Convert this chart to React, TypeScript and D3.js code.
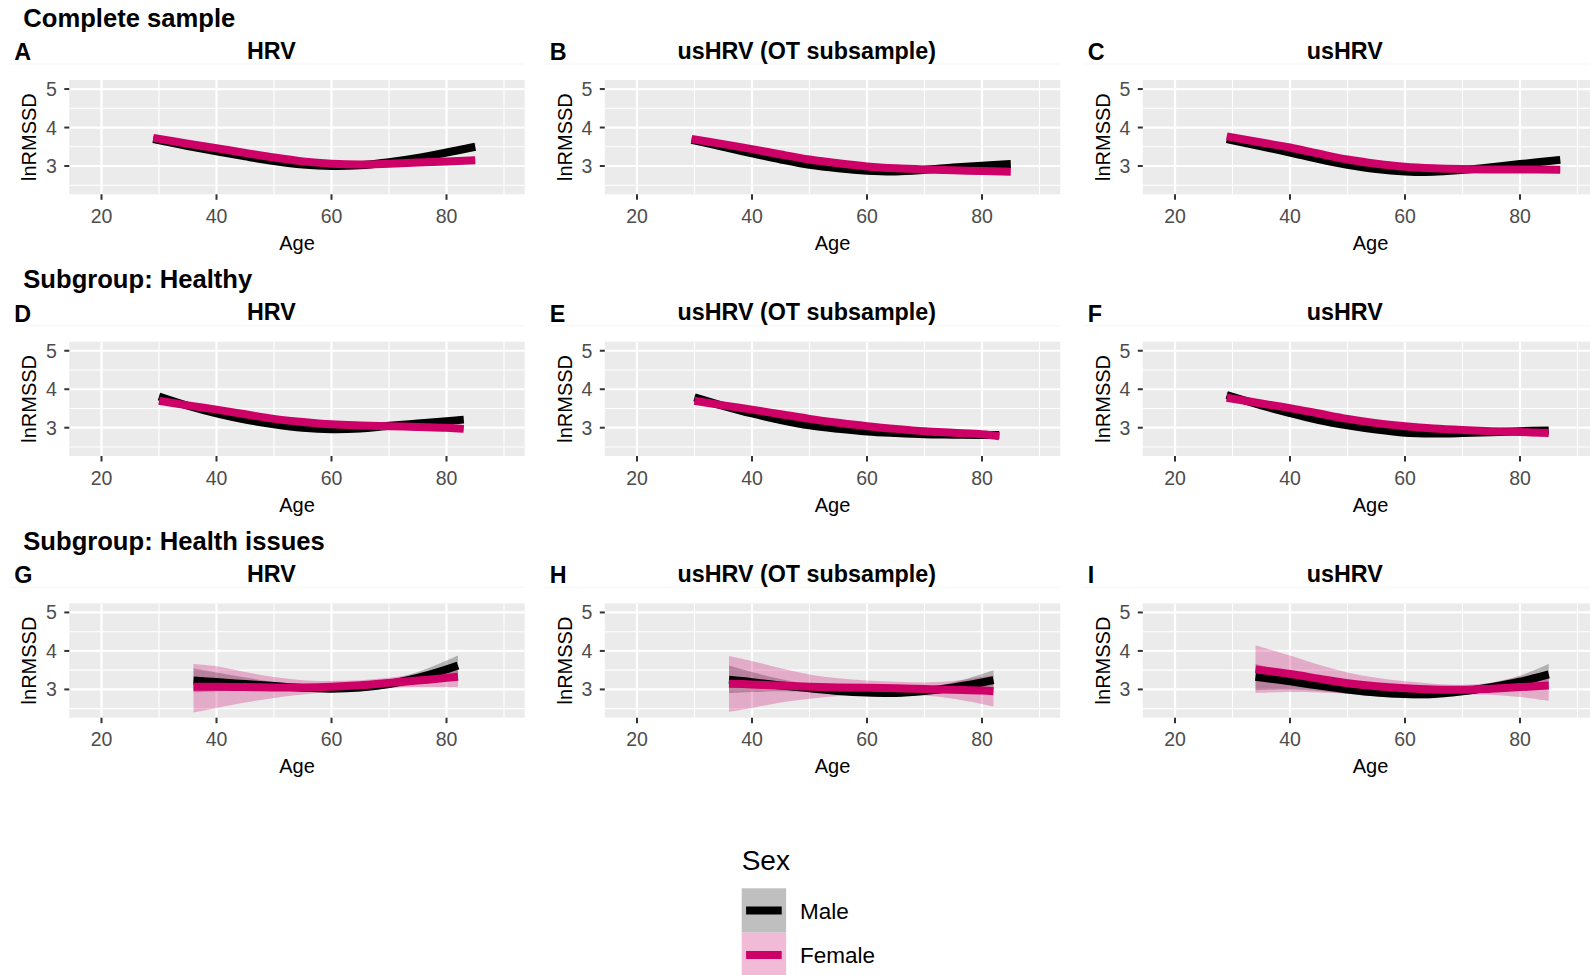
import React from "react";
import * as d3 from "d3";

// ---- data (lnRMSSD fitted by age, per sex) ----
const rowTitles = ["Complete sample", "Subgroup: Healthy", "Subgroup: Health issues"];
const colTitles = ["HRV", "usHRV (OT subsample)", "usHRV"];
const tags = ["A", "B", "C", "D", "E", "F", "G", "H", "I"];
const xTicks = [20, 40, 60, 80];
const xMinor = [30, 50, 70, 90];
const yTicks = [3, 4, 5];
const yMinor = [2.5, 3.5, 4.5];
const sexes = ["Male", "Female"];

// A: complete sample, HRV
const ageA = [29, 35, 40, 45, 50, 55, 60, 65, 70, 75, 80, 85];
const maleA = [3.7, 3.52, 3.38, 3.25, 3.13, 3.04, 3.0, 3.02, 3.1, 3.21, 3.35, 3.5];
const maleLoA = [3.63, 3.48, 3.35, 3.23, 3.11, 3.02, 2.98, 3.0, 3.07, 3.17, 3.29, 3.41];
const maleHiA = [3.77, 3.56, 3.41, 3.27, 3.15, 3.06, 3.02, 3.04, 3.13, 3.25, 3.41, 3.59];
const femaleA = [3.73, 3.58, 3.46, 3.34, 3.22, 3.12, 3.06, 3.04, 3.06, 3.09, 3.12, 3.15];
const femaleLoA = [3.67, 3.55, 3.44, 3.32, 3.2, 3.1, 3.04, 3.02, 3.04, 3.06, 3.07, 3.08];
const femaleHiA = [3.79, 3.61, 3.48, 3.36, 3.24, 3.14, 3.08, 3.06, 3.08, 3.12, 3.17, 3.22];

// B: complete sample, usHRV (OT subsample)
const ageB = [29.5, 35, 40, 45, 50, 55, 60, 65, 70, 75, 80, 85];
const maleB = [3.68, 3.5, 3.33, 3.17, 3.03, 2.94, 2.88, 2.86, 2.9, 2.96, 3.01, 3.05];
const maleLoB = [3.6, 3.46, 3.3, 3.15, 3.01, 2.92, 2.86, 2.84, 2.87, 2.91, 2.94, 2.95];
const maleHiB = [3.76, 3.54, 3.36, 3.19, 3.05, 2.96, 2.9, 2.88, 2.93, 3.01, 3.08, 3.15];
const femaleB = [3.7, 3.57, 3.44, 3.3, 3.17, 3.07, 2.99, 2.94, 2.91, 2.89, 2.87, 2.85];
const femaleLoB = [3.63, 3.53, 3.42, 3.28, 3.15, 3.05, 2.97, 2.92, 2.88, 2.85, 2.81, 2.77];
const femaleHiB = [3.77, 3.61, 3.46, 3.32, 3.19, 3.09, 3.01, 2.96, 2.94, 2.93, 2.93, 2.93];

// C: complete sample, usHRV
const ageC = [29, 35, 40, 45, 50, 55, 60, 65, 70, 75, 80, 87];
const maleC = [3.7, 3.51, 3.35, 3.18, 3.03, 2.92, 2.86, 2.85, 2.9, 2.97, 3.05, 3.16];
const maleLoC = [3.64, 3.47, 3.32, 3.16, 3.01, 2.9, 2.84, 2.83, 2.87, 2.93, 2.99, 3.06];
const maleHiC = [3.76, 3.55, 3.38, 3.2, 3.05, 2.94, 2.88, 2.87, 2.93, 3.01, 3.11, 3.26];
const femaleC = [3.77, 3.61, 3.48, 3.32, 3.17, 3.06, 2.98, 2.94, 2.92, 2.91, 2.91, 2.9];
const femaleLoC = [3.71, 3.57, 3.46, 3.3, 3.15, 3.04, 2.96, 2.92, 2.9, 2.88, 2.87, 2.84];
const femaleHiC = [3.83, 3.65, 3.5, 3.34, 3.19, 3.08, 3.0, 2.96, 2.94, 2.94, 2.95, 2.96];

// D: healthy, HRV
const ageD = [30, 35, 40, 45, 50, 55, 60, 65, 70, 75, 80, 83];
const maleD = [3.81, 3.57, 3.37, 3.21, 3.09, 3.0, 2.96, 2.98, 3.05, 3.11, 3.17, 3.21];
const maleLoD = [3.73, 3.53, 3.34, 3.19, 3.07, 2.98, 2.94, 2.96, 3.02, 3.06, 3.1, 3.12];
const maleHiD = [3.89, 3.61, 3.4, 3.23, 3.11, 3.02, 2.98, 3.0, 3.08, 3.16, 3.24, 3.3];
const femaleD = [3.7, 3.58, 3.47, 3.35, 3.23, 3.15, 3.09, 3.06, 3.04, 3.02, 3.0, 2.97];
const femaleLoD = [3.64, 3.55, 3.45, 3.33, 3.21, 3.13, 3.07, 3.04, 3.02, 2.99, 2.95, 2.91];
const femaleHiD = [3.76, 3.61, 3.49, 3.37, 3.25, 3.17, 3.11, 3.08, 3.06, 3.05, 3.05, 3.03];

// E: healthy, usHRV (OT subsample)
const ageE = [30, 35, 40, 45, 50, 55, 60, 65, 70, 75, 80, 83];
const maleE = [3.79, 3.57, 3.37, 3.2, 3.06, 2.97, 2.9, 2.86, 2.83, 2.82, 2.81, 2.81];
const maleLoE = [3.71, 3.53, 3.34, 3.18, 3.04, 2.95, 2.88, 2.84, 2.81, 2.79, 2.77, 2.75];
const maleHiE = [3.87, 3.61, 3.4, 3.22, 3.08, 2.99, 2.92, 2.88, 2.85, 2.85, 2.85, 2.87];
const femaleE = [3.7, 3.58, 3.47, 3.35, 3.23, 3.13, 3.04, 2.97, 2.91, 2.87, 2.83, 2.78];
const femaleLoE = [3.64, 3.55, 3.45, 3.33, 3.21, 3.11, 3.02, 2.95, 2.89, 2.84, 2.79, 2.72];
const femaleHiE = [3.76, 3.61, 3.49, 3.37, 3.25, 3.15, 3.06, 2.99, 2.93, 2.9, 2.87, 2.84];

// F: healthy, usHRV
const ageF = [29, 35, 40, 45, 50, 55, 60, 65, 70, 75, 80, 85];
const maleF = [3.85, 3.58, 3.38, 3.2, 3.06, 2.95, 2.87, 2.85, 2.86, 2.88, 2.91, 2.93];
const maleLoF = [3.77, 3.54, 3.35, 3.18, 3.04, 2.93, 2.85, 2.83, 2.84, 2.85, 2.87, 2.87];
const maleHiF = [3.93, 3.62, 3.41, 3.22, 3.08, 2.97, 2.89, 2.87, 2.88, 2.91, 2.95, 2.99];
const femaleF = [3.78, 3.63, 3.51, 3.37, 3.23, 3.12, 3.04, 2.98, 2.94, 2.91, 2.89, 2.86];
const femaleLoF = [3.72, 3.6, 3.49, 3.35, 3.21, 3.1, 3.02, 2.96, 2.92, 2.89, 2.86, 2.81];
const femaleHiF = [3.84, 3.66, 3.53, 3.39, 3.25, 3.14, 3.06, 3.0, 2.96, 2.93, 2.92, 2.91];

// G: health issues, HRV
const ageG = [36, 40, 45, 50, 55, 60, 65, 70, 75, 80, 82];
const maleG = [3.23, 3.19, 3.14, 3.09, 3.04, 3.02, 3.05, 3.14, 3.3, 3.52, 3.62];
const maleLoG = [2.92, 2.95, 2.98, 2.98, 2.95, 2.93, 2.95, 3.03, 3.15, 3.3, 3.36];
const maleHiG = [3.55, 3.44, 3.31, 3.2, 3.13, 3.11, 3.15, 3.25, 3.45, 3.75, 3.88];
const femaleG = [3.07, 3.07, 3.06, 3.05, 3.05, 3.07, 3.11, 3.17, 3.23, 3.3, 3.33];
const femaleLoG = [2.4, 2.52, 2.66, 2.78, 2.87, 2.93, 2.99, 3.04, 3.06, 3.06, 3.05];
const femaleHiG = [3.66, 3.6, 3.45, 3.32, 3.24, 3.22, 3.24, 3.3, 3.41, 3.55, 3.6];

// H: health issues, usHRV (OT subsample)
const ageH = [36, 40, 45, 50, 55, 60, 65, 70, 75, 80, 82];
const maleH = [3.25, 3.19, 3.1, 3.03, 2.96, 2.92, 2.91, 2.96, 3.05, 3.18, 3.24];
const maleLoH = [2.9, 2.93, 2.95, 2.93, 2.87, 2.82, 2.82, 2.87, 2.94, 3.0, 3.0];
const maleHiH = [3.62, 3.45, 3.27, 3.13, 3.05, 3.02, 3.01, 3.06, 3.18, 3.4, 3.5];
const femaleH = [3.15, 3.13, 3.1, 3.07, 3.05, 3.04, 3.03, 3.01, 2.99, 2.97, 2.95];
const femaleLoH = [2.42, 2.52, 2.66, 2.76, 2.83, 2.87, 2.87, 2.84, 2.76, 2.62, 2.55];
const femaleHiH = [3.87, 3.74, 3.55, 3.39, 3.29, 3.23, 3.2, 3.18, 3.22, 3.32, 3.36];

// I: health issues, usHRV
const ageI = [34, 40, 45, 50, 55, 60, 65, 70, 75, 80, 85];
const maleI = [3.33, 3.21, 3.1, 3.0, 2.92, 2.88, 2.88, 2.95, 3.06, 3.2, 3.39];
const maleLoI = [2.98, 3.0, 2.96, 2.89, 2.82, 2.77, 2.77, 2.85, 2.95, 3.05, 3.14];
const maleHiI = [3.66, 3.42, 3.24, 3.11, 3.02, 2.99, 2.99, 3.05, 3.17, 3.36, 3.66];
const femaleI = [3.52, 3.4, 3.28, 3.16, 3.08, 3.03, 3.0, 2.99, 3.02, 3.06, 3.1];
const femaleLoI = [2.91, 2.93, 2.92, 2.89, 2.86, 2.85, 2.86, 2.87, 2.86, 2.8, 2.7];
const femaleHiI = [4.15, 3.88, 3.64, 3.44, 3.3, 3.21, 3.15, 3.12, 3.17, 3.32, 3.48];

const panels = [
  [ageA, maleA, maleLoA, maleHiA, femaleA, femaleLoA, femaleHiA],
  [ageB, maleB, maleLoB, maleHiB, femaleB, femaleLoB, femaleHiB],
  [ageC, maleC, maleLoC, maleHiC, femaleC, femaleLoC, femaleHiC],
  [ageD, maleD, maleLoD, maleHiD, femaleD, femaleLoD, femaleHiD],
  [ageE, maleE, maleLoE, maleHiE, femaleE, femaleLoE, femaleHiE],
  [ageF, maleF, maleLoF, maleHiF, femaleF, femaleLoF, femaleHiF],
  [ageG, maleG, maleLoG, maleHiG, femaleG, femaleLoG, femaleHiG],
  [ageH, maleH, maleLoH, maleHiH, femaleH, femaleLoH, femaleHiH],
  [ageI, maleI, maleLoI, maleHiI, femaleI, femaleLoI, femaleHiI],
];

// ---- layout ----
const W = 1590;
const H = 975;
const colLeft = [69.3, 604.8, 1142.8];
const rowTop = [80, 341.7, 603.4];
const panelW = 455.4;
const panelH = 114.3;
const xLimits = [14.4, 93.6];
const yLimits = [2.265, 5.235];

const FONT = "'Liberation Sans', Arial, Helvetica, sans-serif";
const colors = { Male: "#000000", Female: "#CC0066" };
const fills = { Male: "rgba(0,0,0,0.25)", Female: "rgba(204,0,102,0.27)" };

function Panel({ idx }) {
  const row = Math.floor(idx / 3);
  const col = idx % 3;
  const left = colLeft[col];
  const top = rowTop[row];
  const x = d3.scaleLinear().domain(xLimits).range([left, left + panelW]);
  const y = d3.scaleLinear().domain(yLimits).range([top + panelH, top]);
  const [ages, m, mLo, mHi, f, fLo, fHi] = panels[idx];

  const line = d3
    .line<number>()
    .x((_, i) => x(ages[i]))
    .y((d) => y(d))
    .curve(d3.curveCatmullRom.alpha(0.5));
  const area = (lo: number[], hi: number[]) =>
    d3
      .area<number>()
      .x((_, i) => x(ages[i]))
      .y0((_, i) => y(lo[i]))
      .y1((_, i) => y(hi[i]))
      .curve(d3.curveCatmullRom.alpha(0.5))(ages);

  const clipId = `clip-${idx}`;
  const bottom = top + panelH;

  return (
    <g>
      <defs>
        <clipPath id={clipId}>
          <rect x={left} y={top} width={panelW} height={panelH} />
        </clipPath>
      </defs>
      {col === 0 && (
        <text x={23.3} y={top - 53.3} fontSize={25.6} fontWeight="bold" fill="#000">
          {rowTitles[row]}
        </text>
      )}
      <line x1={left - 60} x2={left + panelW} y1={top - 16} y2={top - 16} stroke="#f5f5f5" strokeWidth={1} />
      <text x={left - 55} y={top - 20} fontSize={23.3} fontWeight="bold" fill="#000">
        {tags[idx]}
      </text>
      <text x={left + 202} y={top - 21.5} fontSize={23.3} fontWeight="bold" textAnchor="middle" fill="#000">
        {colTitles[col]}
      </text>
      <rect x={left} y={top} width={panelW} height={panelH} fill="#EBEBEB" />
      <g clipPath={`url(#${clipId})`}>
        {yMinor.map((v) => (
          <line key={`ym${v}`} x1={left} x2={left + panelW} y1={y(v)} y2={y(v)} stroke="#fff" strokeWidth={1.1} />
        ))}
        {xMinor.map((v) => (
          <line key={`xm${v}`} x1={x(v)} x2={x(v)} y1={top} y2={bottom} stroke="#fff" strokeWidth={1.1} />
        ))}
        {yTicks.map((v) => (
          <line key={`y${v}`} x1={left} x2={left + panelW} y1={y(v)} y2={y(v)} stroke="#fff" strokeWidth={2.2} />
        ))}
        {xTicks.map((v) => (
          <line key={`x${v}`} x1={x(v)} x2={x(v)} y1={top} y2={bottom} stroke="#fff" strokeWidth={2.2} />
        ))}
        <path d={area(mLo, mHi) || ""} fill={fills.Male} />
        <path d={area(fLo, fHi) || ""} fill={fills.Female} />
        <path d={line(m) || ""} fill="none" stroke={colors.Male} strokeWidth={8} />
        <path d={line(f) || ""} fill="none" stroke={colors.Female} strokeWidth={8} />
      </g>
      {yTicks.map((v) => (
        <g key={`yt${v}`}>
          <line x1={left - 5} x2={left} y1={y(v)} y2={y(v)} stroke="#333" strokeWidth={2} />
          <text x={left - 12.5} y={y(v) + 7} fontSize={19.5} textAnchor="end" fill="#4D4D4D">
            {v}
          </text>
        </g>
      ))}
      {xTicks.map((v) => (
        <g key={`xt${v}`}>
          <line x1={x(v)} x2={x(v)} y1={bottom} y2={bottom + 5.5} stroke="#333" strokeWidth={2} />
          <text x={x(v)} y={bottom + 28.5} fontSize={19.5} textAnchor="middle" fill="#4D4D4D">
            {v}
          </text>
        </g>
      ))}
      <text x={left + panelW / 2} y={bottom + 55.5} fontSize={20} textAnchor="middle" fill="#000">
        Age
      </text>
      <text
        transform={`translate(${left - 33},${top + panelH / 2}) rotate(-90)`}
        fontSize={20}
        textAnchor="middle"
        fill="#000"
      >
        lnRMSSD
      </text>
    </g>
  );
}

function Legend() {
  const keyX = 741.7;
  const keyTop = 888.3;
  const keySize = 44.4;
  return (
    <g>
      <text x={keyX} y={870} fontSize={28} fill="#000">
        Sex
      </text>
      {sexes.map((s, i) => {
        const ky = keyTop + i * keySize;
        return (
          <g key={s}>
            <rect x={keyX} y={ky} width={keySize} height={keySize} fill="#fff" />
            <rect x={keyX} y={ky} width={keySize} height={keySize} fill={fills[s]} />
            <line
              x1={keyX + 4.4}
              x2={keyX + keySize - 4.4}
              y1={ky + keySize / 2}
              y2={ky + keySize / 2}
              stroke={colors[s]}
              strokeWidth={8}
            />
            <text x={800} y={ky + keySize / 2 + 8.5} fontSize={22.5} fill="#000">
              {s}
            </text>
          </g>
        );
      })}
    </g>
  );
}

export default function App() {
  return (
    <div style={{ position: "absolute", left: 0, top: 0, width: W, height: H, background: "#fff" }}>
      <svg width={W} height={H} style={{ display: "block", fontFamily: FONT }}>
        <rect width={W} height={H} fill="#fff" />
        {panels.map((_, i) => (
          <Panel key={i} idx={i} />
        ))}
        <Legend />
      </svg>
    </div>
  );
}
